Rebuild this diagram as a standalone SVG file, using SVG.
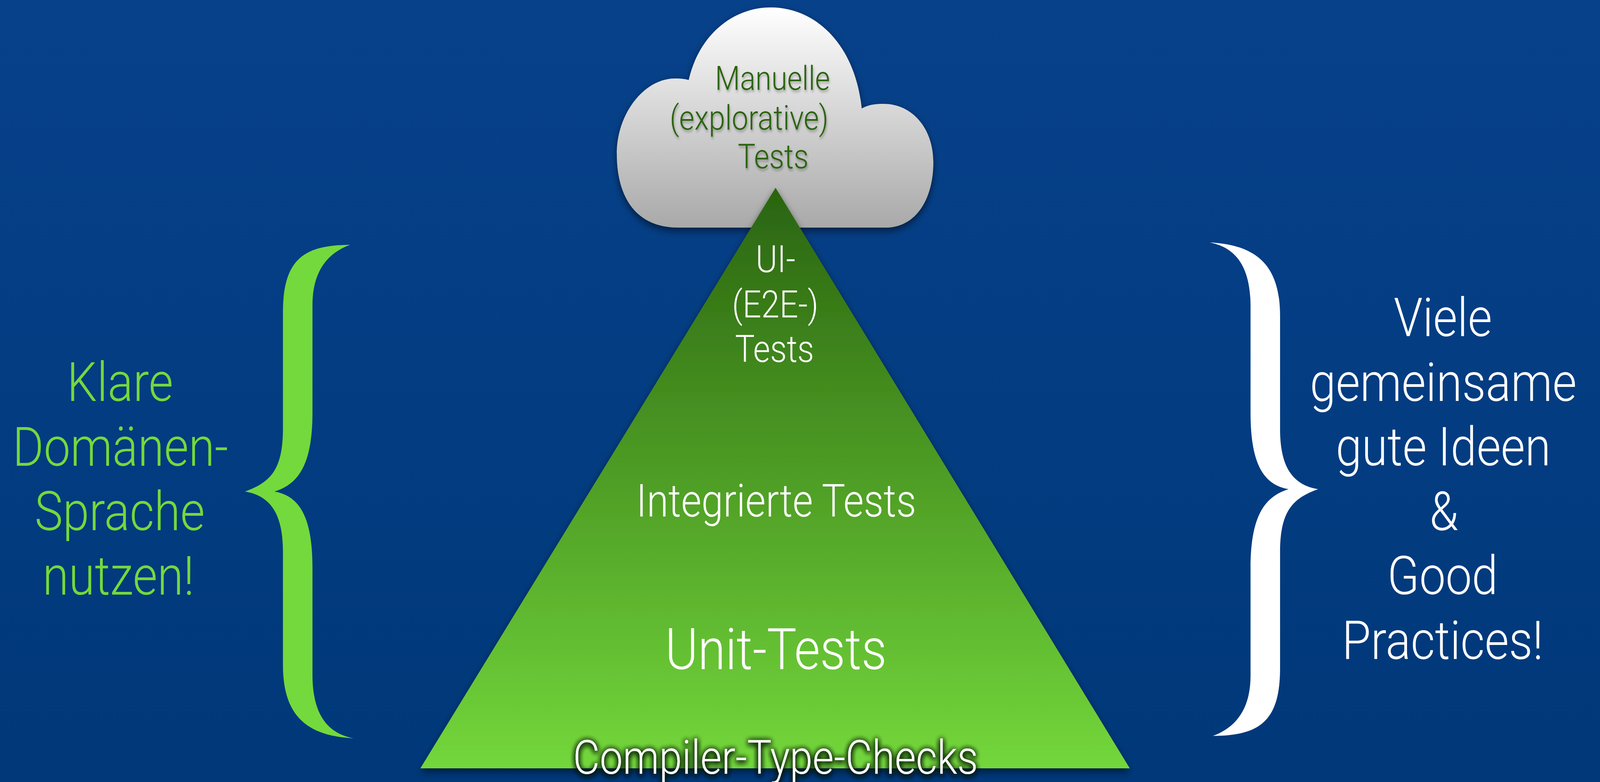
<svg xmlns="http://www.w3.org/2000/svg" xmlns:xlink="http://www.w3.org/1999/xlink" width="4716" height="2003" viewBox="0 0 4716 2003" preserveAspectRatio="none">
  <style>
    svg:root { width: 100vw; height: 100vh; display: block; }
    .t { font-family: "Roboto", "Liberation Sans", sans-serif; font-weight: 300; text-anchor: middle; }
    .white { fill: #FFFFFF; }
    .green { fill: #74D93C; }
    .dark { fill: #2B6410; }
  </style>
  <defs>
    <linearGradient id="bg" x1="0" y1="0" x2="0" y2="1">
      <stop offset="0" stop-color="#07418A"/>
      <stop offset="1" stop-color="#003879"/>
    </linearGradient>
    <linearGradient id="cloudGrad" gradientUnits="userSpaceOnUse" x1="0" y1="19" x2="0" y2="583">
      <stop offset="0" stop-color="#FFFFFF"/>
      <stop offset="1" stop-color="#A8A9A8"/>
    </linearGradient>
    <linearGradient id="pyrGrad" gradientUnits="userSpaceOnUse" x1="0" y1="481" x2="0" y2="1968">
      <stop offset="0" stop-color="#2A6410"/>
      <stop offset="1" stop-color="#73D73B"/>
    </linearGradient>
    <filter id="shadow" x="-10%" y="-10%" width="120%" height="125%">
      <feDropShadow dx="0" dy="8" stdDeviation="10" flood-color="#000" flood-opacity="0.55"/>
    </filter>
    <filter id="textShadowLight" x="-10%" y="-20%" width="120%" height="150%">
      <feDropShadow dx="2" dy="5" stdDeviation="3" flood-color="#000" flood-opacity="0.3"/>
    </filter>
    <filter id="glow" x="-10%" y="-40%" width="120%" height="180%">
      <feGaussianBlur in="SourceAlpha" stdDeviation="8"/>
      <feOffset dx="0" dy="3" result="b"/>
      <feFlood flood-color="#0A2200" flood-opacity="1"/>
      <feComposite in2="b" operator="in" result="s"/>
      <feMerge>
        <feMergeNode in="s"/>
        <feMergeNode in="s"/>
        <feMergeNode in="s"/>
        <feMergeNode in="SourceGraphic"/>
      </feMerge>
    </filter>
    <path id="brace" d="M1032,627 C900,628 834,660 834,800 L834,1097 C834,1200 800,1235 722,1259 C800,1270 834,1320 834,1413 L834,1703 C834,1830 900,1885 1042,1891 C975,1880 921,1840 921,1728 L921,1454 C921,1320 880,1270 809,1259 C880,1240 921,1190 921,1056 L921,782 C921,700 960,650 1032,627 Z"/>
  </defs>

  <rect id="background" x="0" y="0" width="4716" height="2003" fill="url(#bg)"/>

  <g id="connectors"></g>

  <g id="cloud-manual-tests">
    <path d="M2000,583 C1870,583 1818,500 1818,394 C1818,290 1900,200 1991,201 C2010,201 2022,203 2030,205 C2060,90 2160,19 2272,19 C2400,19 2520,110 2540,278 C2560,268 2580,266 2604,266 C2690,266 2751,330 2751,415 C2751,510 2700,583 2610,583 Z" fill="url(#cloudGrad)" filter="url(#shadow)"/>
    <g class="t dark" filter="url(#textShadowLight)">
      <text x="2277" y="230" font-size="85">Manuelle</text>
      <text x="2208" y="332" font-size="87">(explorative)</text>
      <text x="2279" y="431" font-size="87">Tests</text>
    </g>
  </g>

  <g id="pyramid">
    <polygon points="2286,481 3330,1968 1239,1968" fill="url(#pyrGrad)" filter="url(#shadow)"/>
    <g id="level-ui-tests" class="t white" font-size="97">
      <text x="2286" y="697">UI-</text>
      <text x="2285" y="813">(E2E-)</text>
      <text x="2283" y="927">Tests</text>
    </g>
    <g id="level-integrated-tests">
      <text class="t white" x="2288" y="1323" font-size="116">Integrierte Tests</text>
    </g>
    <g id="level-unit-tests">
      <text class="t white" x="2287" y="1714" font-size="147">Unit-Tests</text>
    </g>
    <g id="level-compiler-checks">
      <text class="t white" x="2286" y="1982" font-size="121" filter="url(#glow)">Compiler-Type-Checks</text>
    </g>
  </g>

  <g id="left-note">
    <use xlink:href="#brace" fill="#74D93C"/>
    <g class="t green" font-size="140">
      <text x="354" y="1027">Klare</text>
      <text x="355" y="1193">Domänen-</text>
      <text x="353" y="1358">Sprache</text>
      <text x="349" y="1523">nutzen!</text>
    </g>
  </g>

  <g id="right-note">
    <use xlink:href="#brace" fill="#FFFFFF" transform="rotate(180 2303.5 1256)"/>
    <g class="t white" font-size="138">
      <text x="4253" y="861">Viele</text>
      <text x="4254" y="1027">gemeinsame</text>
      <text x="4254" y="1192">gute Ideen</text>
      <text x="4256" y="1358">&amp;</text>
      <text x="4252" y="1522">Good</text>
      <text x="4252" y="1688">Practices!</text>
    </g>
  </g>
</svg>
